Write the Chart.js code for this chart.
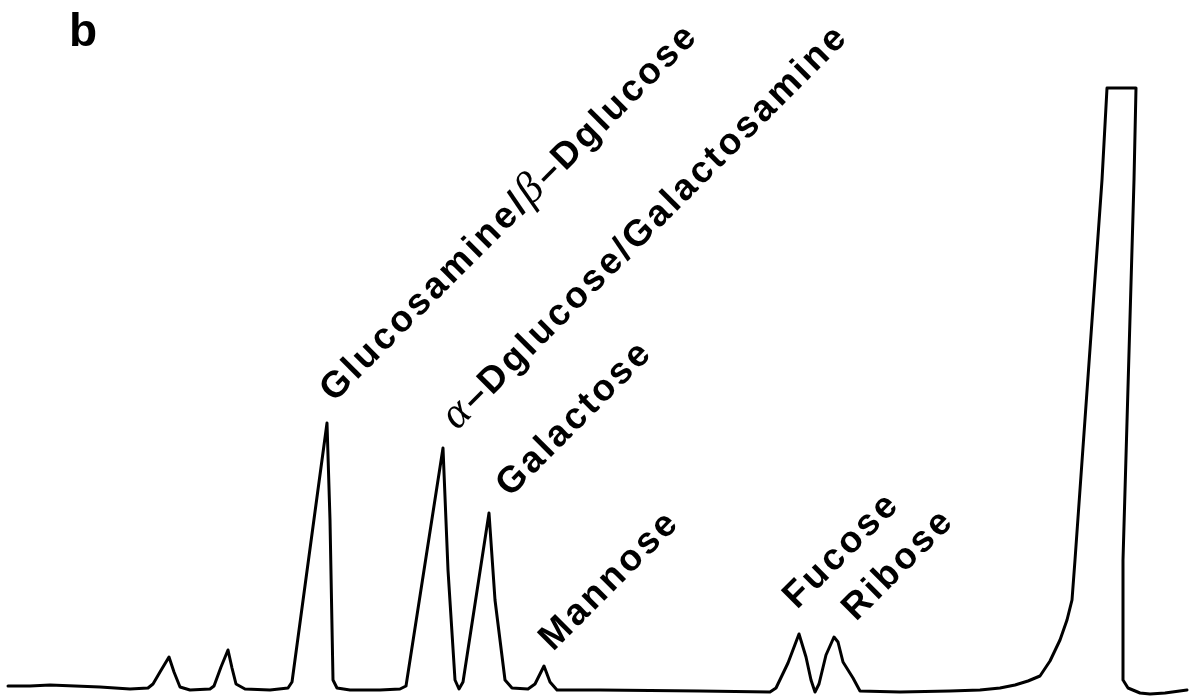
<!DOCTYPE html>
<html>
<head>
<meta charset="utf-8">
<title>Chromatogram b</title>
<script src="https://cdn.jsdelivr.net/npm/chart.js@4.4.1/dist/chart.umd.min.js"></script>
<style>
  html, body { margin: 0; padding: 0; background: #fff; }
  #wrap { width: 1194px; height: 696px; position: relative; }
</style>
</head>
<body>
<div id="wrap"><canvas id="chart" width="1194" height="696"></canvas></div>
<script>
// Retention time (s) and detector response (mV) of the trace
const times = [
  8, 30, 50, 75, 100, 130, 148, 153, 160, 169, 174, 180, 190, 210, 214,
  221, 228, 232, 236, 245, 270, 288, 292, 327, 330, 333, 337, 350, 380, 400,
  406, 443, 448, 455, 459, 463, 489, 495, 505, 512, 528, 535, 544, 550, 557,
  600, 700, 770, 776, 788, 799, 806, 811, 815, 819, 826, 834, 838, 843, 848,
  853, 860, 900, 950, 980, 1000, 1015, 1028, 1040, 1050, 1060, 1067, 1072, 1075, 1102,
  1107, 1136, 1134, 1123, 1123, 1128, 1140, 1150, 1165, 1187
];
const signal = [
  2, 2, 3, 2, 1, -1, 0, 4, 16, 31, 16, 1, -2, -1, 2,
  21, 38, 20, 4, -1, -2, 0, 6, 265, 168, 8, 0, -2, -2, -1,
  2, 240, 118, 8, -1, 6, 175, 88, 8, 0, -1, 4, 22, 6, -2,
  -2, -3, -4, 0, 25, 54, 31, 8, -4, 4, 33, 51, 46, 26, 18,
  10, -3, -4, -3, -2, 0, 3, 7, 12, 27, 48, 68, 88, 128, 508,
  600, 600, 508, 128, 8, 0, -5, -6, -5, -2
];

// Identified peaks
const peakNames = [
  'Glucosamine/β–Dglucose',
  'α–Dglucose/Galactosamine',
  'Galactose',
  'Mannose',
  'Fucose',
  'Ribose'
];
const peakTimes = [327, 443, 489, 544, 799, 834];

const panelLetter = 'b';

// Axis ranges
const timeRange = [0, 1194];
const signalRange = [-8, 688];

// Label placement relative to each peak apex (px) and text styling
const labelOffsets = [
  [7, -20], [14, -17], [21, -15], [9, -14], [-2, -24], [22, -15]
];
const labelAngle = -45 * Math.PI / 180;
const latinFont = 'bold 37px "Liberation Sans", Arial, sans-serif';
const greekFont = 'italic 44px "Liberation Serif", "DejaVu Serif", serif';
const letterGap = 3;

function drawRotatedLabel(ctx, text, x, y) {
  ctx.save();
  ctx.translate(x, y);
  ctx.rotate(labelAngle);
  ctx.textBaseline = 'alphabetic';
  ctx.textAlign = 'left';
  ctx.fillStyle = '#000';
  let pos = 0;
  for (const ch of text) {
    const greek = /[α-ω]/.test(ch);
    ctx.font = greek ? greekFont : latinFont;
    ctx.fillText(ch, pos, 0);
    pos += ctx.measureText(ch).width + letterGap;
  }
  ctx.restore();
}

const peakLabels = {
  id: 'peakLabels',
  afterDatasetsDraw(chart) {
    const { ctx, scales } = chart;
    peakNames.forEach((name, i) => {
      const idx = times.indexOf(peakTimes[i]);
      const px = scales.x.getPixelForValue(peakTimes[i]);
      const py = scales.y.getPixelForValue(signal[idx]);
      drawRotatedLabel(ctx, name, px + labelOffsets[i][0], py + labelOffsets[i][1]);
    });
    ctx.save();
    ctx.font = 'bold 46px "Liberation Sans", Arial, sans-serif';
    ctx.fillStyle = '#000';
    ctx.textBaseline = 'alphabetic';
    ctx.fillText(panelLetter, 69, 46);
    ctx.restore();
  }
};

const whiteBg = {
  id: 'whiteBg',
  beforeDraw(chart) {
    const { ctx, width, height } = chart;
    ctx.save();
    ctx.fillStyle = '#fff';
    ctx.fillRect(0, 0, width, height);
    ctx.restore();
  }
};

new Chart(document.getElementById('chart'), {
  type: 'line',
  data: {
    datasets: [{
      data: times.map((t, i) => ({ x: t, y: signal[i] })),
      borderColor: '#000',
      borderWidth: 3,
      pointRadius: 0,
      tension: 0,
      borderJoinStyle: 'round',
      borderCapStyle: 'round',
      fill: false,
      clip: false
    }]
  },
  options: {
    responsive: false,
    animation: false,
    events: [],
    layout: { padding: 0 },
    plugins: { legend: { display: false }, tooltip: { enabled: false }, title: { display: false } },
    scales: {
      x: { type: 'linear', min: timeRange[0], max: timeRange[1], display: false },
      y: { type: 'linear', min: signalRange[0], max: signalRange[1], display: false }
    }
  },
  plugins: [whiteBg, peakLabels]
});
</script>
</body>
</html>
